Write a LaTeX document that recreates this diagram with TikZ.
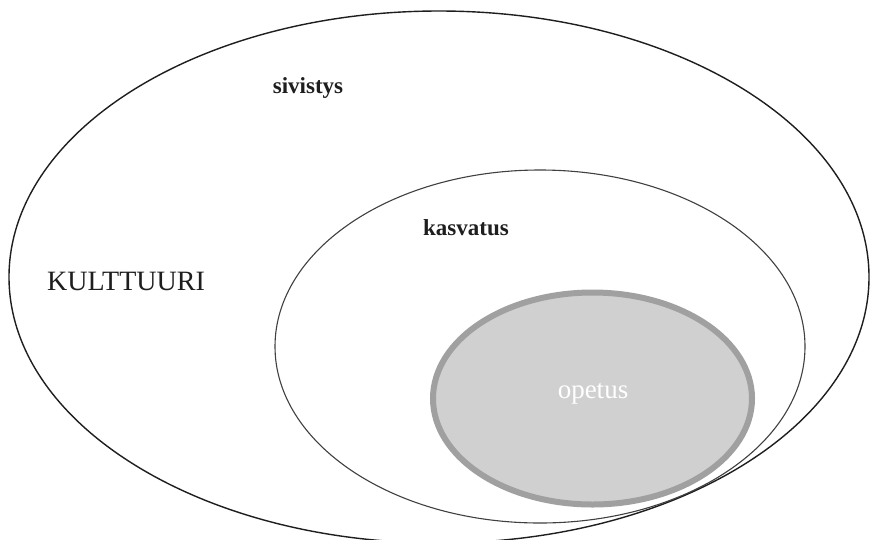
\documentclass[tikz,border=0pt]{standalone}
\usepackage{fontspec}
\setmainfont{Liberation Serif}
\definecolor{ink}{HTML}{1E1E1E}
\definecolor{ringgray}{HTML}{A0A0A0}
\definecolor{fillgray}{HTML}{D0D0D0}
\begin{document}
\begin{tikzpicture}[x=1pt,y=-1pt,
  outerring/.style={draw=ink,line width=1.4pt},
  midring/.style={draw=ink!85,line width=1.1pt},
  innerring/.style={draw=ringgray,fill=fillgray,line width=6pt},
  boldlabel/.style={anchor=base,inner sep=0pt,text=ink,font=\fontsize{23}{26}\selectfont\bfseries},
  plainlabel/.style={anchor=base,inner sep=0pt,text=ink,font=\fontsize{28}{32}\selectfont}]
\useasboundingbox[fill=white] (0,0) rectangle (870,539);
\begin{scope}
\clip (0,0) rectangle (870,539);
\draw[outerring] (439,277) ellipse [x radius=430, y radius=266];
\end{scope}
\draw[midring] (540,346.5) ellipse [x radius=265, y radius=176.5];
\draw[innerring] (592.5,398.5) ellipse [x radius=159.5, y radius=106];
\node[plainlabel] (kult) at (126,290) {KULTTUURI};
\node[boldlabel] (siv) at (308,93) {sivistys};
\node[boldlabel] (kasv) at (466,235) {kasvatus};
\node[plainlabel,text=white,font=\fontsize{27}{31}\selectfont] (ope) at (593,398) {opetus};
\end{tikzpicture}
\end{document}
